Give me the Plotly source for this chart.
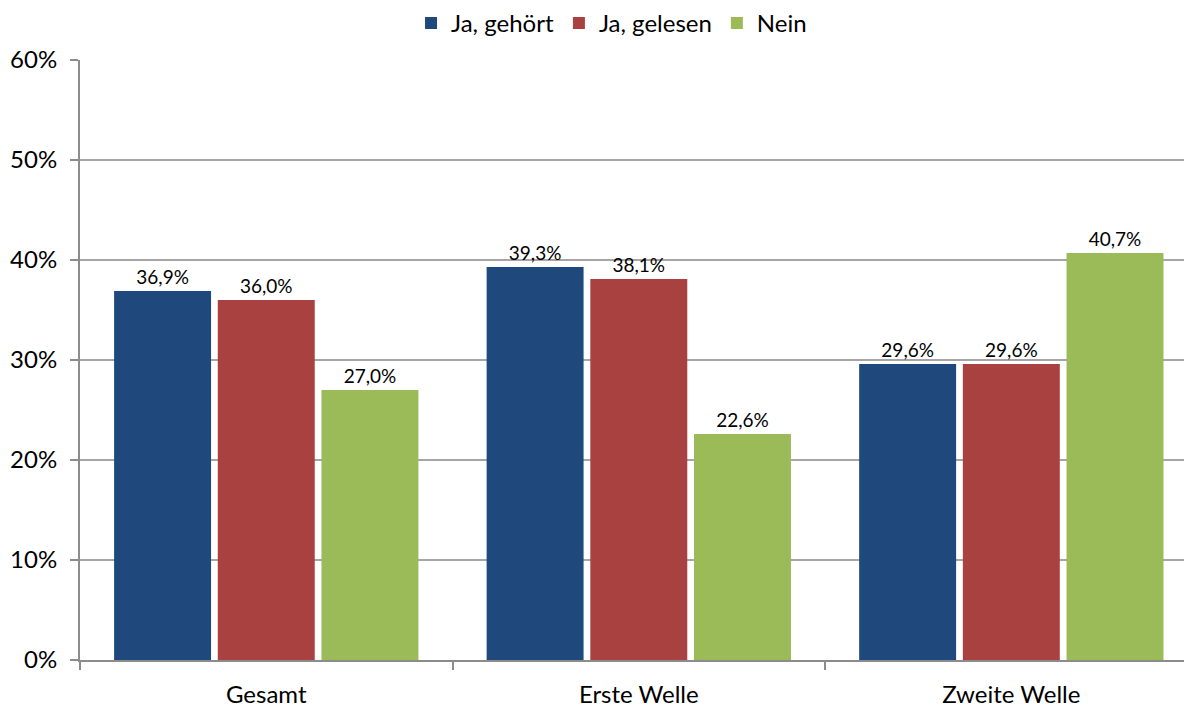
import plotly.graph_objects as go

categories = ["Gesamt", "Erste Welle", "Zweite Welle"]
series_names = ["Ja, gehört", "Ja, gelesen", "Nein"]
ja_gehoert = [0.369, 0.393, 0.296]
ja_gelesen = [0.360, 0.381, 0.296]
nein = [0.270, 0.226, 0.407]
y_ticks = [0, 0.1, 0.2, 0.3, 0.4, 0.5, 0.6]

colors = ["#1F497D", "#A84140", "#9BBB59"]
font_family = "Lato, 'Open Sans', sans-serif"

fig = go.Figure()
for name, values, color in zip(series_names, [ja_gehoert, ja_gelesen, nein], colors):
    fig.add_trace(go.Bar(
        x=categories,
        y=values,
        name=name,
        marker=dict(color=color, line=dict(width=0)),
        texttemplate="%{y:.1%}",
        textposition="outside",
        constraintext="none",
        textfont=dict(size=19, color="#000000", family=font_family),
        cliponaxis=False,
    ))

# page body has an 8px margin, so the figure is 8px smaller on each axis
fig.update_layout(
    barmode="group",
    bargap=0.165,
    bargroupgap=0.065,
    separators=",.",
    width=1184,
    height=699,
    margin=dict(l=72, r=0, t=52, b=47, autoexpand=False),
    paper_bgcolor="white",
    plot_bgcolor="white",
    font=dict(family=font_family, size=24, color="#000000"),
    showlegend=True,
    legend=dict(
        orientation="h",
        x=0.478, xanchor="center",
        y=0.978, yanchor="middle",
        yref="container",
        font=dict(size=24),
        traceorder="normal",
        bgcolor="rgba(0,0,0,0)",
    ),
    xaxis=dict(
        range=[-0.5, 2.485],
        showgrid=False,
        showline=True,
        linecolor="#8C8C8C",
        linewidth=2,
        ticks="outside",
        tickson="boundaries",
        ticklen=8,
        tickcolor="#8C8C8C",
        tickwidth=2,
        ticklabelstandoff=12,
        tickfont=dict(size=24),
    ),
    yaxis=dict(
        range=[0, 0.6],
        tickvals=y_ticks,
        tickformat=".0%",
        showgrid=True,
        gridcolor="#A6A6A6",
        gridwidth=1.5,
        showline=True,
        linecolor="#8C8C8C",
        linewidth=2,
        ticks="outside",
        ticklen=8,
        tickcolor="#8C8C8C",
        tickwidth=2,
        ticklabelstandoff=8,
        tickfont=dict(size=24),
        zeroline=False,
    ),
)

fig.write_html("out.html")
